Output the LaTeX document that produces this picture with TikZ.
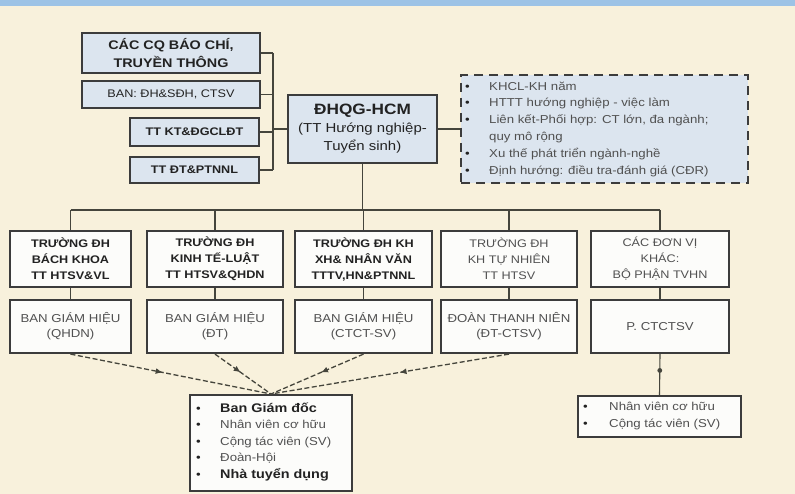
\documentclass[tikz,border=0pt]{standalone}
\usepackage{fontspec}
\setmainfont[FakeStretch=1.15]{Liberation Sans}
\usetikzlibrary{decorations.markings,arrows.meta}

\definecolor{bg}{HTML}{F8F1DC}
\definecolor{band}{HTML}{9DC3E6}
\definecolor{bluefill}{HTML}{DCE5EF}
\definecolor{boxline}{HTML}{3C3C3C}
\definecolor{txt}{HTML}{222222}
\definecolor{graytxt}{HTML}{505050}
\definecolor{connc}{HTML}{45453C}
\definecolor{whitefill}{HTML}{FCFCFA}

\newcommand{\fs}[2]{\fontsize{#1}{#2}\selectfont}
\newcommand{\bul}[1]{\makebox[#1][l]{\textcolor{txt}{\textbullet}}}

\tikzset{
  box/.style={draw=boxline, line width=2.2pt, inner sep=0pt, align=center, text=txt},
  bluebox/.style={box, fill=bluefill},
  whitebox/.style={box, fill=whitefill},
  listtext/.style={anchor=west, inner sep=0pt, align=left},
  conn/.style={draw=connc, line width=1.4pt},
  dashconn/.style={draw=connc, line width=1.3pt, dash pattern=on 5pt off 2.5pt,
    postaction={decorate},
    decoration={markings, mark=at position 0.46 with {\arrow{Latex[length=7pt,width=6pt]}}}},
  dotconn/.style={draw=connc, line width=1.1pt,
    postaction={decorate},
    decoration={markings, mark=at position 0.4 with {\fill[connc] (0,0) circle (2.4pt);}}},
  rowone/.style={whitebox, minimum height=56pt, font=\bfseries\fs{11}{16}},
  rowonelight/.style={whitebox, minimum height=56pt, font=\fs{11}{16}, text=graytxt},
  rowtwo/.style={whitebox, minimum height=53pt, font=\fs{11.5}{15}, text=graytxt},
}

\begin{document}
\begin{tikzpicture}[x=1pt,y=-1pt]
\fill[bg] (0,0) rectangle (795,494);
\fill[band] (0,0) rectangle (795,6);
\useasboundingbox (0,0) rectangle (795,494);

% top-left boxes
\node[bluebox, minimum width=178pt, minimum height=40pt, font=\bfseries\fs{12.5}{18}] (cq) at (171,53) {CÁC CQ BÁO CHÍ,\\TRUYỀN THÔNG};
\node[bluebox, minimum width=178pt, minimum height=27pt, font=\fs{11}{13}] (ban) at (171,94.5) {BAN: ĐH\&SĐH, CTSV};
\node[bluebox, minimum width=129pt, minimum height=28pt, font=\bfseries\fs{11}{13}] (kt) at (194.5,132) {TT KT\&ĐGCLĐT};
\node[bluebox, minimum width=129pt, minimum height=26pt, font=\bfseries\fs{11}{13}] (dt) at (194.5,170) {TT ĐT\&PTNNL};

% central box
\node[bluebox, minimum width=149pt, minimum height=68pt, font=\fs{13}{18}] (dhqg) at (362.5,129)
  {{\bfseries\fs{15}{18}ĐHQG-HCM}\\(TT Hướng nghiệp-\\Tuyển sinh)};

% dashed goals box
\node[draw=boxline, fill=bluefill, line width=2.5pt, dash pattern=on 9pt off 6pt,
  minimum width=287pt, minimum height=108pt, inner sep=0pt] (goals) at (604.5,129) {};
\node[listtext, text=graytxt, font=\fs{11.5}{16.8}] (goalstext) at (465,129)
  {\bul{24pt}KHCL-KH năm\\
   \bul{24pt}HTTT hướng nghiệp - việc làm\\
   \bul{24pt}Liên kết-Phối hợp: CT lớn, đa ngành;\\
   \hspace*{24pt}quy mô rộng\\
   \bul{24pt}Xu thế phát triển ngành-nghề\\
   \bul{24pt}Định hướng: điều tra-đánh giá (CĐR)};

% row 1
\node[rowone, minimum width=121pt] (r1a) at (70.5,259) {TRƯỜNG ĐH\\BÁCH KHOA\\TT HTSV\&VL};
\node[rowone, minimum width=136pt] (r1b) at (215,259) {TRƯỜNG ĐH\\KINH TẾ-LUẬT\\TT HTSV\&QHDN};
\node[rowone, minimum width=137pt] (r1c) at (363.5,259) {TRƯỜNG ĐH KH\\XH\& NHÂN VĂN\\TTTV,HN\&PTNNL};
\node[rowonelight, minimum width=136pt] (r1d) at (509,259) {TRƯỜNG ĐH\\KH TỰ NHIÊN\\TT HTSV};
\node[rowonelight, minimum width=138pt] (r1e) at (660,259) {CÁC ĐƠN VỊ\\KHÁC:\\BỘ PHẬN TVHN};

% row 2
\node[rowtwo, minimum width=121pt] (r2a) at (70.5,326.5) {BAN GIÁM HIỆU\\(QHDN)};
\node[rowtwo, minimum width=136pt] (r2b) at (215,326.5) {BAN GIÁM HIỆU\\(ĐT)};
\node[rowtwo, minimum width=137pt] (r2c) at (363.5,326.5) {BAN GIÁM HIỆU\\(CTCT-SV)};
\node[rowtwo, minimum width=136pt] (r2d) at (509,326.5) {ĐOÀN THANH NIÊN\\(ĐT-CTSV)};
\node[rowtwo, minimum width=138pt] (r2e) at (660,326.5) {P. CTCTSV};

% bottom boxes
\node[whitebox, line width=2pt, minimum width=162pt, minimum height=96pt] (staff) at (271,443) {};
\node[listtext, text=graytxt, font=\fs{11.5}{16.5}] (stafftext) at (196,442)
  {\bul{24pt}{\bfseries\color{txt}\fs{12.5}{16.5}Ban Giám đốc}\\
   \bul{24pt}Nhân viên cơ hữu\\
   \bul{24pt}Cộng tác viên (SV)\\
   \bul{24pt}Đoàn-Hội\\
   \bul{24pt}{\bfseries\color{txt}\fs{12.5}{16.5}Nhà tuyển dụng}};

\node[whitebox, line width=2pt, minimum width=163pt, minimum height=41pt] (rstaff) at (659.5,416.5) {};
\node[listtext, text=graytxt, font=\fs{11.5}{17}] (rstafftext) at (583,416)
  {\bul{26pt}Nhân viên cơ hữu\\
   \bul{26pt}Cộng tác viên (SV)};

% connectors top-left
\coordinate (lbus) at (273,0);
\foreach \n in {cq,ban,kt,dt} \draw[conn] (\n.east) -- (\n.east -| lbus);
\draw[conn] (cq.east -| lbus) -- (dt.east -| lbus);
\draw[conn] (lbus |- dhqg.west) -- (dhqg.west);
\draw[conn] (dhqg.east) -- (goals.west);

% main bus
\coordinate (bus) at (0,210);
\draw[conn] (dhqg.south) -- (dhqg.south |- bus);
\draw[conn] (r1a.north |- bus) -- (r1e.north |- bus);
\foreach \n in {a,b,c,d,e} {
  \draw[conn] (r1\n.north |- bus) -- (r1\n.north);
  \draw[conn] (r1\n.south) -- (r2\n.north);
}

% dashed arrows to staff box
\foreach \n in {a,b,c,d} \draw[dashconn] (r2\n.south) -- (staff.north);
\draw[dotconn] (r2e.south) -- (rstaff.north);
\end{tikzpicture}
\end{document}
